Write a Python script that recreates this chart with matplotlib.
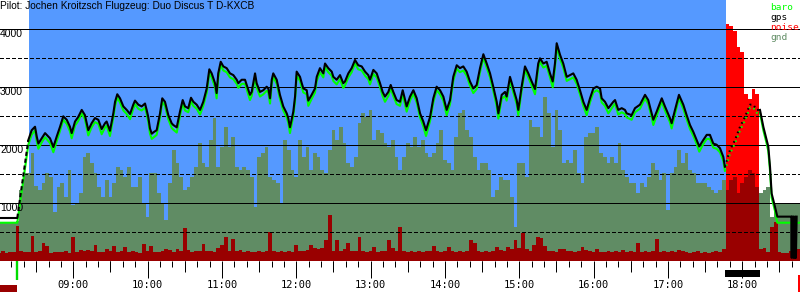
import numpy as np
import matplotlib
matplotlib.use("Agg")
import matplotlib.pyplot as plt
from matplotlib.transforms import blended_transform_factory
from matplotlib.patches import Rectangle

# ---------------- data ----------------
title = "Pilot: Jochen Kroitzsch Flugzeug: Duo Discus T D-KXCB"
legend_labels = ["baro", "gps", "noise", "gnd"]
y_labels = [1000, 2000, 3000, 4000]
hour_labels = ["09:00", "10:00", "11:00", "12:00", "13:00", "14:00",
               "15:00", "16:00", "17:00", "18:00"]

# times are minutes after 08:00
day_start_h = 8
view_min = (0.83, 646.6)
takeoff_min = 14.8
climb_top_min = 23.7
glide_start_min = 24.2
engine_on_min = 586.0
engine_off_min = 614.3
noise_mark_min = 645.0

trace_min = [0, 14.8, 23.7, 26.4, 29.1, 30.5, 31.8, 34.5, 37.2, 41.2, 43.9, 46.6, 49.3, 51.9, 54.7, 57.3,
             58.7, 61.4, 64.0, 66.8, 69.4, 72.1, 74.8, 77.5, 80.2, 82.9, 85.6, 86.9, 89.6, 92.3, 93.7,
             95.5, 97.7, 100.4, 103.1, 105.8, 108.4, 109.8, 112.5, 115.2, 117.9, 119.2, 120.5, 121.9,
             123.3, 125.1, 127.3, 130.0, 131.8, 134.0, 136.7, 139.4, 140.7, 143.5, 146.1, 148.3, 150.2,
             152.8, 155.0, 156.9, 159.6, 162.3, 164.9, 167.7, 169.8, 171.7, 174.4, 175.7, 177.0, 179.0,
             181.1, 183.8, 186.5, 189.2, 191.9, 193.2, 195.9, 198.6, 202.6, 204.0, 206.7, 208.0, 210.7,
             213.4, 216.1, 217.4, 218.8, 220.2, 221.4, 224.2, 226.8, 229.5, 232.3, 233.5, 234.9, 237.6,
             239.0, 240.3, 243.0, 244.4, 245.7, 248.4, 249.7, 252.4, 255.1, 256.5, 259.1, 261.8, 263.2,
             265.8, 268.6, 269.9, 272.6, 275.3, 277.9, 279.3, 282.0, 284.7, 287.4, 290.0, 292.8, 295.5,
             298.1, 299.5, 302.2, 304.9, 307.6, 309.7, 311.6, 314.3, 316.2, 318.3, 321.0, 323.7, 325.9,
             329.1, 331.8, 334.5, 337.2, 339.9, 342.5, 344.7, 348.0, 350.6, 353.3, 356.0, 358.7, 361.4,
             364.1, 366.7, 369.5, 372.1, 374.8, 377.5, 380.2, 382.9, 385.6, 388.3, 391.0, 393.7, 396.4,
             399.0, 401.8, 403.1, 405.8, 408.5, 409.8, 412.5, 415.2, 417.9, 419.2, 421.9, 424.6, 427.3,
             430.0, 432.7, 435.3, 436.7, 439.4, 442.1, 444.8, 447.0, 448.8, 450.2, 452.9, 455.5, 458.3,
             460.9, 463.6, 466.3, 469.0, 471.7, 474.4, 477.1, 479.8, 482.5, 485.2, 486.5, 489.2, 491.9,
             495.9, 497.3, 499.9, 502.7, 505.3, 506.7, 510.7, 513.4, 517.4, 521.5, 524.1, 526.9, 528.2,
             530.9, 535.0, 537.6, 541.6, 543.0, 545.7, 548.9, 552.4, 555.1, 557.8, 560.5, 563.2, 565.3,
             568.5, 571.3, 573.9, 576.6, 579.3, 582.0, 584.7, 586.0, 590.1, 594.1, 598.2, 602.2, 606.2,
             608.9, 611.6, 614.3, 617.0, 619.7, 621.0, 622.4, 623.7, 625.0, 626.4, 628.3, 638.5]

gps_alt = [750, 750, 2090, 2260, 2320, 2150, 2030, 2120, 2210, 2120, 1970, 2150, 2320, 2500, 2440, 2320,
           2210, 2410, 2490, 2610, 2520, 2260, 2380, 2470, 2440, 2280, 2380, 2410, 2250, 2550, 2750,
           2880, 2810, 2670, 2610, 2540, 2700, 2770, 2700, 2670, 2720, 2610, 2490, 2290,
           2200, 2230, 2260, 2550, 2810, 2750, 2520, 2380, 2350, 2310, 2580, 2780, 2670,
           2640, 2820, 2750, 2700, 2610, 2750, 2980, 3310, 3240, 3070, 2900, 3240, 3440,
           3360, 3330, 3240, 3210, 3130, 3070, 3130, 3130, 2870, 2920, 3240, 3070, 2920,
           2950, 3010, 2980, 2810, 3130, 3240, 3130, 2870, 2670, 2550, 2470, 2310, 2580,
           2840, 3270, 3180, 3070, 2980, 2950, 2770, 2870, 2980, 3180, 3330, 3240, 3410,
           3330, 3270, 3180, 3130, 3210, 3070, 3100, 3240, 3330, 3470, 3380, 3360, 3270,
           3210, 3130, 3300, 3240, 3070, 2920, 2840, 2920, 3040, 2920, 2780, 2750, 2950,
           2670, 2840, 2950, 2810, 2550, 2410, 2260, 2490, 2810, 3010, 2950, 2840, 2610,
           2780, 3180, 3380, 3330, 3360, 3270, 3100, 2980, 3040, 3330, 3570, 3410, 3240,
           3010, 2750, 2550, 2870, 2920, 2840, 3180, 2980, 2780, 2610, 3010, 3360, 3240,
           3100, 2970, 3410, 3500, 3410, 3440, 3240, 3100, 3410, 3760, 3560, 3410, 3180,
           3210, 3240, 3130, 2950, 2750, 2610, 2810, 2980, 3010, 2980, 2810, 2750, 2640,
           2750, 2780, 2610, 2640, 2610, 2550, 2520, 2640, 2700, 2870, 2780, 2550, 2440,
           2580, 2810, 2670, 2470, 2380, 2610, 2870, 2700, 2520, 2350, 2230, 2090, 1980,
           2090, 2180, 2180, 2030, 2010, 1950, 1800, 1630, 1920, 2090, 2320, 2490, 2700,
           2700, 2610, 2610, 2320, 2090, 1980, 1630, 1170, 1060, 940, 770, 770]

baro_alt = [665, 665, 2010, 2180, 2260, 2070, 1940, 2050, 2140, 2040, 1880, 2070, 2250, 2440, 2370, 2240,
            2120, 2340, 2420, 2550, 2450, 2170, 2310, 2400, 2370, 2190, 2310, 2340, 2160, 2480, 2680,
            2820, 2740, 2600, 2540, 2450, 2630, 2710, 2630, 2600, 2650, 2540, 2410, 2200,
            2110, 2140, 2180, 2480, 2750, 2680, 2450, 2300, 2270, 2220, 2510, 2720, 2600,
            2570, 2760, 2680, 2630, 2530, 2680, 2910, 3250, 3170, 3000, 2810, 3170, 3380,
            3290, 3260, 3170, 3140, 3060, 2990, 3060, 3060, 2780, 2850, 3170, 3000, 2840,
            2880, 2940, 2910, 2720, 3060, 3180, 3060, 2800, 2600, 2480, 2390, 2210, 2510,
            2770, 3200, 3110, 3000, 2910, 2880, 2680, 2800, 2910, 3110, 3260, 3170, 3350,
            3260, 3200, 3110, 3050, 3140, 2990, 3030, 3170, 3260, 3410, 3310, 3290, 3200,
            3140, 3050, 3230, 3170, 3000, 2850, 2750, 2850, 2980, 2850, 2710, 2680, 2880,
            2580, 2770, 2890, 2740, 2480, 2330, 2160, 2420, 2740, 2950, 2880, 2770, 2520,
            2710, 3110, 3320, 3260, 3290, 3200, 3030, 2900, 2970, 3260, 3510, 3340, 3170,
            2940, 2670, 2460, 2800, 2850, 2770, 3120, 2910, 2710, 2520, 2940, 3300, 3170,
            3030, 2880, 3340, 3440, 3340, 3370, 3170, 3000, 3340, 3700, 3490, 3340, 3110,
            3140, 3170, 3060, 2880, 2680, 2520, 2740, 2910, 2950, 2910, 2740, 2680, 2550,
            2680, 2720, 2530, 2570, 2540, 2480, 2440, 2570, 2630, 2810, 2710, 2480, 2350,
            2510, 2750, 2600, 2400, 2290, 2540, 2810, 2630, 2450, 2280, 2160, 2020, 1890,
            2020, 2110, 2110, 1960, 1940, 1880, 1730, 1560, 1860, 2030, 2260, 2430, 2650,
            2650, 2560, 2560, 2260, 2030, 1900, 1560, 1100, 990, 870, 665, 665]

# gps dropouts after landing
gps_tail_min = [639.8, 639.9, 640.0, 641.2, 641.3, 641.8, 642.3, 642.8, 643.3, 643.9]
gps_tail_alt = [770, 60, 770, 770, 60, 770, 60, 770, 60, 770]
baro_tail_min = [646.6]
baro_tail_alt = [665]

# terrain elevation and engine noise level, one value every 3 minutes from 08:00
sample_step_min = 3
gnd_alt = [655, 655, 655, 655, 655, 700, 1230, 1520, 1520, 1860,
           1290, 1230, 1345, 1517, 1460, 856, 1287, 1345, 1114, 1574,
           971, 1000, 1172, 1804, 1862, 1690, 1517, 1287, 1114, 1402,
           1114, 1345, 1631, 1574, 1459, 1631, 1287, 1287, 1459, 1000,
           770, 1517, 1517, 1172, 1000, 712, 1345, 1919, 1690, 1459,
           1229, 1287, 1459, 1631, 2034,
           1690, 1631, 2091, 2465, 1631, 1976, 2321, 1976, 2149, 1631,
           1574, 1631, 1574, 1459, 942, 1804, 1862, 1976, 1459, 1402,
           1345, 1000, 2091, 1919, 1574, 1459, 2091, 1804, 1976, 1574,
           1862, 1804, 1574, 1517, 1919, 2264, 2091, 2321, 2034, 1690,
           1631, 1804, 2379, 2551, 2494, 2609, 2091, 2264, 2206, 2034,
           1976, 2091, 1804,
           1574, 1804, 2034, 1976, 2149, 1976, 2091, 1862, 1804, 1862,
           2034, 2264, 1747, 1690, 1574, 2149, 2551, 2609, 2264, 2149,
           1804, 1574, 1690, 1690, 1574, 1114, 1229, 1459, 1402, 1402,
           1114, 597, 1690, 1690, 1459, 2436, 2321, 2321, 2149, 2839,
           2551, 1976, 2609, 2264, 1690, 1747, 1690, 1919, 1517, 1345,
           2149, 2206, 2206, 2321,
           1862, 1804, 1690, 1804, 1690, 2034, 1574, 1459, 1345, 1345,
           1172, 1345, 1287, 1459, 1690, 1574, 1402, 1517, 885, 1517,
           1631, 1919, 1690, 1862, 1574, 1517, 1345, 1345, 1345, 1287,
           1229, 1172, 1229, 1402, 1229, 1402, 1459, 1172, 1345, 1459,
           1574, 1517, 1287, 1172, 1229, 1287, 770, 1000, 1000, 1000,
           1000, 1000, 1000, 1000]

noise_enl = [31, 38, 31, 34, 34, 134, 38, 34, 34, 96,
             34, 38, 69, 57, 31, 34, 34, 34, 38, 31,
             92, 34, 42, 38, 42, 38, 61, 34, 34, 46,
             38, 57, 34, 38, 54, 34, 38, 34, 31, 65,
             38, 57, 34, 34, 38, 46, 42, 34, 46, 38,
             126, 42, 34, 38, 38,
             65, 38, 38, 34, 50, 61, 92, 38, 84, 38,
             42, 34, 38, 34, 34, 38, 34, 38, 111, 38,
             34, 38, 34, 38, 34, 61, 38, 38, 42, 61,
             50, 46, 50, 80, 176, 38, 80, 38, 46, 69,
             38, 38, 92, 38, 34, 38, 54, 34, 38, 38,
             80, 50, 38,
             130, 38, 34, 38, 34, 38, 34, 38, 38, 57,
             38, 34, 38, 54, 38, 34, 38, 34, 38, 80,
             69, 38, 34, 38, 34, 38, 54, 42, 38, 54,
             46, 80, 50, 107, 46, 38, 61, 92, 88, 57,
             38, 38, 34, 46, 46, 38, 38, 34, 38, 54,
             42, 38, 34, 46,
             34, 34, 38, 34, 38, 34, 42, 34, 38, 34,
             69, 34, 38, 34, 38, 84, 34, 38, 34, 38,
             34, 42, 38, 34, 31, 34, 38, 31, 34, 31,
             34, 38, 34, 46, 910, 900, 880, 820, 800, 640,
             620, 660, 640, 46, 50, 34, 130, 150, 34, 30,
             30, 40, 35, 46]

# ---------------- style ----------------
BLUE = "#5599FF"
GND = "#608C64"
DARKRED = "#990000"
RED = "#FF0000"
BARO = "#00FF00"
Y_TOP = 4505
ENL_FULL = 1000
PX = 0.72  # one pixel in points

plt.rcParams["lines.scale_dashes"] = False


def hrs(m):
    return day_start_h + np.asarray(m, dtype=float) / 60.0


W, H = 800, 300
fig = plt.figure(figsize=(W / 100, H / 100), dpi=100)
ax_h_px = 261.3
ax = fig.add_axes([0, 1 - ax_h_px / H, 1, ax_h_px / H])
ax.set_xlim(hrs(view_min[0]), hrs(view_min[1]))
ax.set_ylim(0, Y_TOP)
for s in ax.spines.values():
    s.set_visible(False)
ax.set_yticks([])
ax.set_facecolor("white")

# glide phase background
ax.axvspan(hrs(glide_start_min), hrs(engine_on_min + 0.5), color=BLUE, lw=0, zorder=0)

# noise and ground bars
gnd = np.asarray(gnd_alt, float)
noise = np.asarray(noise_enl, float) * Y_TOP / ENL_FULL
n = min(len(gnd), len(noise))
gnd, noise = gnd[:n], noise[:n]
st = hrs(np.arange(n) * sample_step_min)
bw = sample_step_min / 60.0
ax.bar(st, noise, width=bw, color=RED, lw=0, antialiased=False, zorder=1)
ax.bar(st, gnd, width=bw, color=GND, lw=0, antialiased=False, zorder=2)
ax.bar(st, np.minimum(noise, gnd), width=bw, color=DARKRED, lw=0, antialiased=False, zorder=3)

# grid lines
for v in [1000, 2000, 3000, 4000]:
    ax.axhline(v, color="black", lw=PX, zorder=4, antialiased=False)
for v in [500, 1500, 2500, 3500]:
    ax.axhline(v, color="black", lw=PX, dashes=(2.3, 2.0), zorder=4, antialiased=False)

# traces
t_all = np.asarray(trace_min, float)
gps_t = np.concatenate([t_all, gps_tail_min])
gps_a = np.concatenate([gps_alt, gps_tail_alt])
baro_t = np.concatenate([t_all, baro_tail_min])
baro_a = np.concatenate([baro_alt, baro_tail_alt])


def plot_seg(t, a, lo, hi, **kw):
    m = (t >= lo) & (t <= hi)
    ax.plot(hrs(t[m]), a[m], **kw)


lw = 1.5
# baro
plot_seg(baro_t, baro_a, -1, engine_on_min, color=BARO, lw=lw, zorder=5)
plot_seg(baro_t, baro_a, engine_on_min, engine_off_min, color=BARO, lw=lw, ls=(0, (1.2, 2.5)), zorder=5)
plot_seg(baro_t, baro_a, engine_off_min, 1e9, color=BARO, lw=lw, zorder=5)
# gps
plot_seg(gps_t, gps_a, -1, takeoff_min, color="black", lw=lw, zorder=6)
plot_seg(gps_t, gps_a, takeoff_min, climb_top_min, color="black", lw=lw, ls=(0, (3, 2)), zorder=6)
plot_seg(gps_t, gps_a, climb_top_min, engine_on_min, color="black", lw=lw, zorder=6)
plot_seg(gps_t, gps_a, engine_on_min, engine_off_min, color="black", lw=lw, ls=(0, (1.2, 2.5)), zorder=6)
plot_seg(gps_t, gps_a, engine_off_min, 1e9, color="black", lw=lw, zorder=6)

# y labels
ytr = blended_transform_factory(ax.transAxes, ax.transData)
for v in y_labels:
    ax.text(0.0, v, str(v), transform=ytr, ha="left", va="top", fontsize=7.5,
            family="Liberation Sans", color="black", zorder=7)

# x ticks
hour_pos = np.arange(9, 9 + len(hour_labels))
ax.set_xticks(hour_pos, hour_labels)
minor = hrs(np.arange(10, view_min[1], 10))
ax.set_xticks(minor, minor=True)
ax.tick_params(axis="x", which="major", length=12.3, width=PX, pad=1.3, labelsize=7.5,
               direction="out", color="black")
ax.tick_params(axis="x", which="minor", length=4.2, width=PX, direction="out", color="black")
for lab in ax.get_xticklabels():
    lab.set_family("DejaVu Sans Mono")
xtr = blended_transform_factory(ax.transData, ax.transAxes)
half = hrs(np.arange(30, view_min[1], 60))
ax.vlines(half, 0, -11 / ax_h_px, transform=xtr, colors="black", lw=PX, clip_on=False)

# phase markers below the axis
ax.vlines([hrs(takeoff_min)], 0, -18.5 / ax_h_px, transform=xtr, colors="#00DD00", lw=1.7, clip_on=False)
ax.add_patch(Rectangle((hrs(engine_on_min), -(270 - ax_h_px) / ax_h_px),
                       hrs(engine_off_min) - hrs(engine_on_min), -6.7 / ax_h_px,
                       transform=xtr, color="black", lw=0, clip_on=False))
ax.add_patch(Rectangle((hrs(view_min[0]), -(285 - ax_h_px) / ax_h_px),
                       hrs(takeoff_min) - hrs(view_min[0]), -6.7 / ax_h_px,
                       transform=xtr, color=DARKRED, lw=0, clip_on=False))
ax.add_patch(Rectangle((hrs(noise_mark_min), -(275 - ax_h_px) / ax_h_px),
                       hrs(view_min[1]) - hrs(noise_mark_min), -17 / ax_h_px,
                       transform=xtr, color=RED, lw=0, clip_on=False))

# title and legend
fig.text(0.0, 1 - 1 / H, title, ha="left", va="top", fontsize=7.3, family="Liberation Sans", color="black")
leg_colors = [BARO, "black", RED, GND]
for i, (lab, c) in enumerate(zip(legend_labels, leg_colors)):
    fig.text(770 / W, 1 - (9.5 + 10 * i) / H, lab, ha="left", va="baseline", fontsize=6.8,
             family="DejaVu Sans Mono", color=c)

fig.savefig("out.png", dpi=100)
